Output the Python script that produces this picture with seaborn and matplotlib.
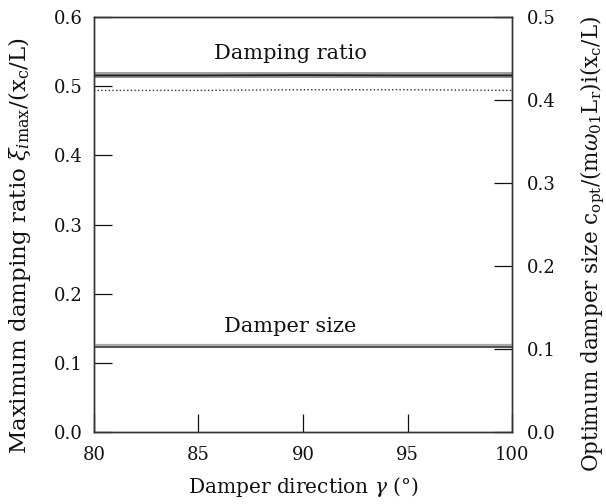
import matplotlib
matplotlib.use("Agg")
import matplotlib.pyplot as plt
import seaborn as sns
import pandas as pd

sns.set_theme(style="white")
plt.rcParams['font.family'] = ['DejaVu Serif']
plt.rcParams['mathtext.fontset'] = 'dejavuserif'

gamma = [80, 85, 90, 95, 100]
ratio_a = [0.519, 0.519, 0.519, 0.519, 0.519]
ratio_b = [0.517, 0.517, 0.517, 0.517, 0.517]
ratio_c = [0.515, 0.515, 0.516, 0.515, 0.515]
ratio_d = [0.513, 0.513, 0.513, 0.513, 0.513]
ratio_dot = [0.494, 0.494, 0.495, 0.495, 0.494]
size_a = [0.105, 0.105, 0.105, 0.105, 0.105]
size_b = [0.1025, 0.1025, 0.1025, 0.1025, 0.1025]

fig = plt.figure(figsize=(6.06, 5.04), dpi=100)
ax = fig.add_axes([0.155, 0.143, 0.69, 0.823])
ax2 = ax.twinx()

for vals, col, lw, ls in [(ratio_a, '#999999', 1.3, '-'), (ratio_b, '#555555', 1.3, '-'),
                          (ratio_c, '#222222', 1.3, '-'), (ratio_d, '#777777', 1.1, '-'),
                          (ratio_dot, '#333333', 1.0, ':')]:
    sns.lineplot(x=gamma, y=vals, ax=ax, color=col, lw=lw, linestyle=ls)

for vals, col, lw in [(size_a, '#aaaaaa', 1.6), (size_b, '#444444', 1.3)]:
    sns.lineplot(x=gamma, y=vals, ax=ax2, color=col, lw=lw)

ax.set_xlim(80, 100)
ax.set_ylim(0, 0.6)
ax2.set_ylim(0, 0.5)
ax.set_xticks([80, 85, 90, 95, 100])
ax.set_yticks([0, 0.1, 0.2, 0.3, 0.4, 0.5, 0.6])
ax2.set_yticks([0, 0.1, 0.2, 0.3, 0.4, 0.5])
ax.set_yticklabels([f"{v:.1f}" for v in ax.get_yticks()])
ax2.set_yticklabels([f"{v:.1f}" for v in ax2.get_yticks()])

for a in (ax, ax2):
    for s in a.spines.values():
        s.set_color('#333333')
        s.set_linewidth(1.0)
ax.tick_params(axis='x', direction='in', length=13, width=0.9, colors='#111111',
               labelsize=13, bottom=True, pad=10)
ax.tick_params(axis='y', direction='in', length=13, width=0.9, colors='#111111',
               labelsize=13, left=True, pad=8)
ax2.tick_params(axis='y', direction='in', length=13, width=0.9, colors='#111111',
                labelsize=13, right=True, pad=11)

ax.set_xlabel(r"Damper direction $\gamma$ (°)", fontsize=14.5, labelpad=8, color='#111111')
ax.set_ylabel(r"Maximum damping ratio $\xi_{i\mathrm{max}}/(\mathrm{x_c}/\mathrm{L})$",
              fontsize=16.5, color='#111111')
ax2.set_ylabel(r"Optimum damper size $\mathrm{c_{opt}}/(\mathrm{m}\omega_{01}\mathrm{L_r})\mathrm{i}(\mathrm{x_c}/\mathrm{L})$",
               fontsize=15.5, color='#111111')
ax.yaxis.set_label_coords(-0.145, 0.45)
ax2.yaxis.set_label_coords(1.16, 0.453)

ax.text(89.4, 0.548, "Damping ratio", ha='center', va='center', fontsize=15, color='#111111')
ax.text(89.4, 0.152, "Damper size", ha='center', va='center', fontsize=15, color='#111111')

fig.savefig("out.png", dpi=100)
